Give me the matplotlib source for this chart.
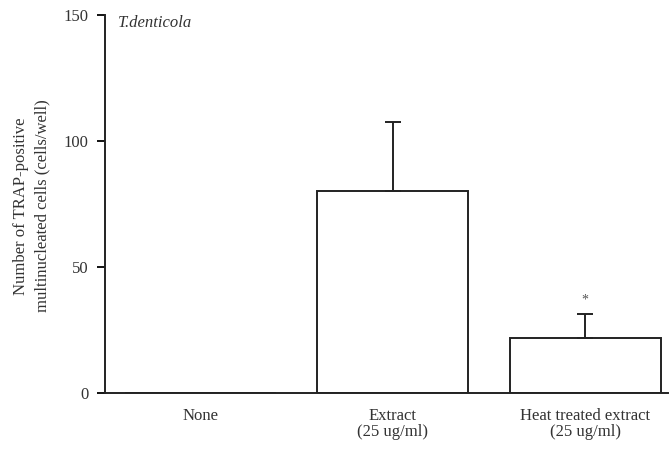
import matplotlib
matplotlib.use("Agg")
import matplotlib.pyplot as plt

categories = ["None", "Extract\n(25 ug/ml)", "Heat treated extract\n(25 ug/ml)"]
values = [0, 80, 22]
errors = [0, 27.5, 9.5]
significance = ["", "", "*"]
yticks = [0, 50, 100, 150]

plt.rcParams['font.family'] = ['Liberation Serif', 'DejaVu Serif']

fig = plt.figure(figsize=(6.7, 4.49), dpi=100)
ax = fig.add_axes([105/670, 56/449, 563/670, 378/449])

x = list(range(len(categories)))
ax.bar(x, values, width=0.786, color="white", edgecolor="#222222", linewidth=1.4, zorder=2)
for xi, v, e in zip(x, values, errors):
    if e > 0:
        ax.errorbar(xi, v, yerr=[[0], [e]], fmt="none", ecolor="#222222",
                    elinewidth=1.4, capsize=6, capthick=1.4, zorder=3)
for xi, v, e, s in zip(x, values, errors, significance):
    if s:
        ax.text(xi, v + e + 3, s, ha="center", va="bottom", fontsize=10, color="#555555")

ax.set_xlim(-0.495, 2.43)
ax.set_ylim(0, 150)
ax.set_yticks(yticks)
ax.set_xticks(x)
ax.set_xticklabels(categories, fontsize=12, color="#333333", linespacing=1.0)
ax.tick_params(axis="x", length=0, pad=11)
ax.tick_params(axis="y", length=6, width=1.3, labelsize=12, labelcolor="#333333",
               direction="out", pad=6)
for sp in ["top", "right"]:
    ax.spines[sp].set_visible(False)
for sp in ["left", "bottom"]:
    ax.spines[sp].set_linewidth(1.4)
    ax.spines[sp].set_color("#222222")

fig.text(31.5/670, 1 - 206/449, "Number of TRAP-positive\nmultinucleated cells (cells/well)",
         fontsize=12, color="#333333", rotation=90, ha="center", va="center", linespacing=1.4)
ax.text(13/563, 0.98, "T.denticola", transform=ax.transAxes, fontsize=12, style="italic",
        color="#333333", ha="left", va="center")

fig.savefig("out.png", dpi=100)
